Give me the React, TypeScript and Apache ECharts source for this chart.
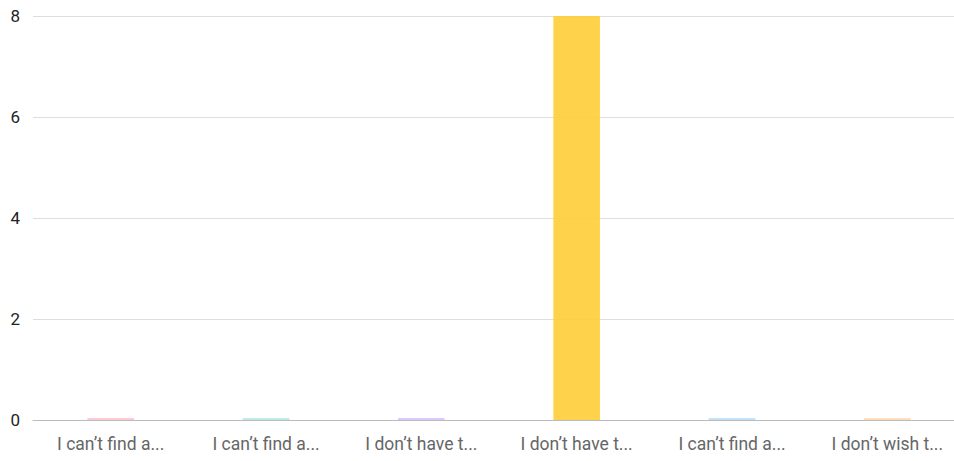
import React, { useEffect, useRef } from "react";
import * as echarts from "echarts";

const categories = [
  "I can’t find a...",
  "I can’t find a...",
  "I don’t have t...",
  "I don’t have t...",
  "I can’t find a...",
  "I don’t wish t...",
];
const values = [0, 0, 0, 8, 0, 0];
const colors = [
  "rgba(255,99,132,0.35)",
  "rgba(75,192,192,0.35)",
  "rgba(153,102,255,0.35)",
  "rgba(255,205,56,0.9)",
  "rgba(54,162,235,0.3)",
  "rgba(255,159,64,0.35)",
];
const yTicks = { min: 0, max: 8, interval: 2 };

export default function App() {
  const ref = useRef<HTMLDivElement>(null);
  useEffect(() => {
    const chart = echarts.init(ref.current!, null, { renderer: "svg" });
    chart.setOption({
      animation: false,
      grid: { left: 33, right: 0, top: 16, bottom: 41, containLabel: false },
      xAxis: {
        type: "category",
        data: categories,
        axisLine: { lineStyle: { color: "#bbbbbb", width: 1 } },
        axisTick: { alignWithLabel: true, length: 5, lineStyle: { color: "#888" } },
        axisLabel: {
          color: "#666666",
          fontSize: 17.5,
          fontFamily: "Roboto, sans-serif",
          margin: 15,
          interval: 0,
        },
      },
      yAxis: {
        type: "value",
        min: yTicks.min,
        max: yTicks.max,
        interval: yTicks.interval,
        axisLine: { show: false },
        axisTick: { show: false },
        splitLine: { lineStyle: { color: "#dddddd" } },
        axisLabel: {
          color: "#222222",
          fontSize: 17,
          fontFamily: "Roboto, sans-serif",
          margin: 13,
        },
      },
      series: [
        {
          type: "bar",
          barWidth: "30%",
          barMinHeight: 2,
          data: values.map((v, i) => ({ value: v, itemStyle: { color: colors[i] } })),
        },
      ],
    });
    return () => chart.dispose();
  }, []);
  return (
    <div style={{ position: "absolute", left: 0, top: 0, width: 954, height: 461, overflow: "hidden" }}>
      <div ref={ref} style={{ width: 965, height: 461 }} />
    </div>
  );
}
